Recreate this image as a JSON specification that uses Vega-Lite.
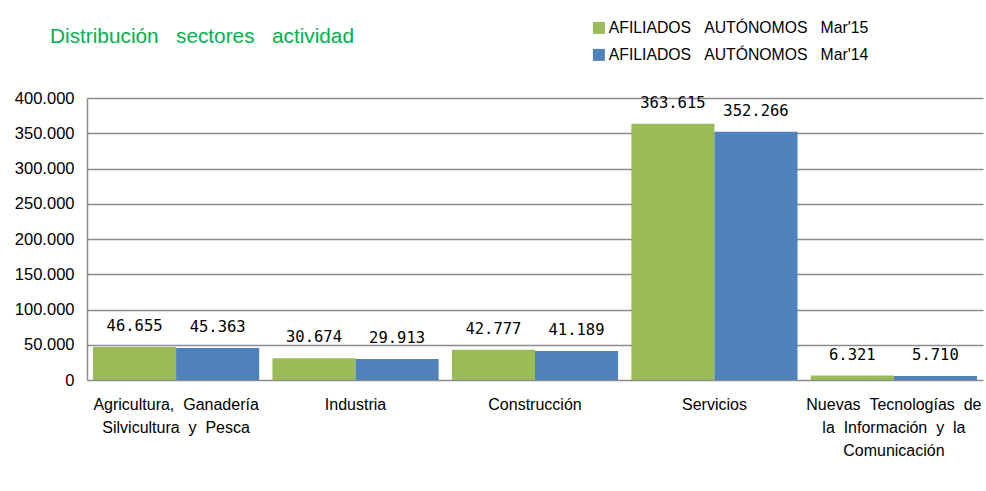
{
  "$schema": "https://vega.github.io/schema/vega-lite/v6.json",
  "autosize": {"type": "none"},
  "padding": {"left": 87, "top": 98, "right": 3, "bottom": 111},
  "width": 896,
  "height": 282,
  "background": "white",
  "title": {
    "text": "Distribución\u00a0\u00a0\u00a0sectores\u00a0\u00a0\u00a0actividad",
    "anchor": "start",
    "frame": "group",
    "dx": -37,
    "dy": 28,
    "offset": 0,
    "fontSize": 20.8,
    "font": "Liberation Sans",
    "fontWeight": "normal",
    "color": "#00B050"
  },
  "data": {
    "values": [
      {"sector": "Agricultura, Ganadería Silvicultura y Pesca", "serie": "AFILIADOS  AUTÓNOMOS  Mar'15", "valor": 46655},
      {"sector": "Agricultura, Ganadería Silvicultura y Pesca", "serie": "AFILIADOS  AUTÓNOMOS  Mar'14", "valor": 45363},
      {"sector": "Industria", "serie": "AFILIADOS  AUTÓNOMOS  Mar'15", "valor": 30674},
      {"sector": "Industria", "serie": "AFILIADOS  AUTÓNOMOS  Mar'14", "valor": 29913},
      {"sector": "Construcción", "serie": "AFILIADOS  AUTÓNOMOS  Mar'15", "valor": 42777},
      {"sector": "Construcción", "serie": "AFILIADOS  AUTÓNOMOS  Mar'14", "valor": 41189},
      {"sector": "Servicios", "serie": "AFILIADOS  AUTÓNOMOS  Mar'15", "valor": 363615},
      {"sector": "Servicios", "serie": "AFILIADOS  AUTÓNOMOS  Mar'14", "valor": 352266},
      {"sector": "Nuevas Tecnologías de la Información y la Comunicación", "serie": "AFILIADOS  AUTÓNOMOS  Mar'15", "valor": 6321},
      {"sector": "Nuevas Tecnologías de la Información y la Comunicación", "serie": "AFILIADOS  AUTÓNOMOS  Mar'14", "valor": 5710}
    ]
  },
  "encoding": {
    "x": {
      "field": "sector",
      "type": "nominal",
      "sort": null,
      "scale": {"paddingInner": 0.074, "paddingOuter": 0.0335},
      "axis": {
        "title": null,
        "labelAngle": 0,
        "domain": false,
        "ticks": false,
        "labelFont": "Liberation Sans",
        "labelFontSize": 16,
        "labelColor": "#000000",
        "labelPadding": 16,
        "labelLineHeight": 23,
        "labelLimit": 300,
        "labelExpr": "datum.value == 'Agricultura, Ganadería Silvicultura y Pesca' ? ['Agricultura,\u00a0\u00a0Ganadería', 'Silvicultura\u00a0\u00a0y\u00a0\u00a0Pesca'] : datum.value == 'Nuevas Tecnologías de la Información y la Comunicación' ? ['Nuevas\u00a0\u00a0Tecnologías\u00a0\u00a0de', 'la\u00a0\u00a0Información\u00a0\u00a0y\u00a0\u00a0la', 'Comunicación'] : datum.value"
      }
    },
    "xOffset": {"field": "serie", "type": "nominal", "sort": ["AFILIADOS  AUTÓNOMOS  Mar'15", "AFILIADOS  AUTÓNOMOS  Mar'14"]},
    "y": {
      "field": "valor",
      "type": "quantitative",
      "scale": {"domain": [0, 400000]},
      "axis": {
        "title": null,
        "values": [0, 50000, 100000, 150000, 200000, 250000, 300000, 350000, 400000],
        "format": ",d",
        "labelFont": "Liberation Sans",
        "labelFontSize": 16.5,
        "labelColor": "#000000",
        "labelPadding": 13,
        "ticks": false,
        "domain": true,
        "domainColor": "#8c8c8c",
        "domainWidth": 1.5,
        "gridColor": "#8c8c8c",
        "gridWidth": 1.3
      }
    }
  },
  "layer": [
    {
      "mark": {"type": "bar"},
      "encoding": {
        "color": {
          "field": "serie",
          "type": "nominal",
          "sort": ["AFILIADOS  AUTÓNOMOS  Mar'15", "AFILIADOS  AUTÓNOMOS  Mar'14"],
          "scale": {"range": ["#9BBB59", "#4F81BD"]},
          "legend": {
            "title": null,
            "orient": "none",
            "legendX": 504,
            "legendY": -78,
            "symbolType": "square",
            "symbolSize": 144,
            "symbolStrokeWidth": 0,
            "labelFont": "Liberation Sans",
            "labelFontSize": 15.75,
            "labelColor": "#000000",
            "labelOffset": 2,
            "rowPadding": 10,
            "labelLimit": 400,
            "labelExpr": "replace(replace(datum.label, '  ', '\u00a0\u00a0\u00a0'), '  ', '\u00a0\u00a0\u00a0')"
          }
        }
      }
    },
    {
      "mark": {"type": "text", "dy": -13, "baseline": "bottom", "font": "DejaVu Sans Mono", "fontSize": 15.5, "color": "#000000"},
      "encoding": {
        "text": {"field": "valor", "type": "quantitative", "format": ",d"}
      }
    }
  ],
  "config": {
    "locale": {"number": {"decimal": ",", "thousands": ".", "grouping": [3], "currency": ["", " €"]}},
    "view": {"stroke": null}
  }
}
